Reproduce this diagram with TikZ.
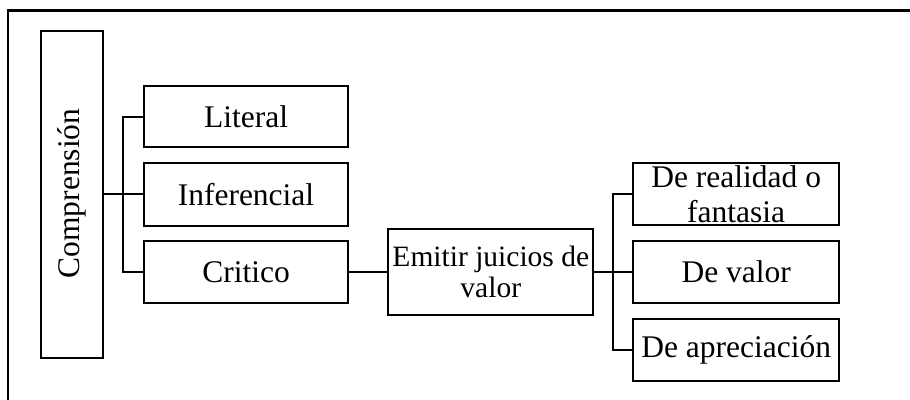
\documentclass[tikz,border=0pt]{standalone}
\usepackage{fontspec}
\setmainfont{Liberation Serif}
\begin{document}
\begin{tikzpicture}[x=1pt,y=-1pt,
  box/.style={draw=black,line width=2pt,inner sep=0pt,align=center,
    font=\fontsize{31.5}{36}\selectfont},
  link/.style={draw=black,line width=2pt}]
\useasboundingbox (0,0) rectangle (910,399);
\fill[white] (0,0) rectangle (910,399);
% frame (top and left edges only visible)
\coordinate (ftr) at (912,10.5);
\coordinate (ftl) at (8,10.5);
\coordinate (fbl) at (8,401);
\draw[line width=2.3pt] (ftr) -- (ftl) -- (fbl);
% nodes
\node[box,minimum width=62.5pt,minimum height=327pt] (comp) at (71.8,194.5) {};
\node[rotate=90,inner sep=0pt,font=\fontsize{31.5}{36}\selectfont] (comptext) at (71.8,193.5) {Comprensión};
\node[box,minimum width=204pt,minimum height=61.5pt] (lit) at (246,116.5) {Literal};
\node[box,minimum width=204pt,minimum height=62.5pt] (inf) at (246,194.3) {Inferencial};
\node[box,minimum width=204pt,minimum height=62.3pt] (cri) at (246,271.9) {Critico};
\node[box,minimum width=205pt,minimum height=85.7pt,font=\fontsize{29.5}{30.7}\selectfont] (emi) at (490.8,272.2) {Emitir juicios de\\valor};
\node[box,minimum width=205.7pt,minimum height=62.3pt,font=\fontsize{31.5}{34.7}\selectfont] (rea) at (736.2,193.9) {De realidad o\\fantasia};
\node[box,minimum width=205.7pt,minimum height=61.7pt] (val) at (736.2,271.9) {De valor};
\node[box,minimum width=205.7pt,minimum height=61.7pt] (apr) at (736.2,349.9) {De apreciación};
% connectors
\coordinate (t1) at (123.3,0);
\draw[link] (comp.east |- inf.west) -- (inf.west);
\draw[link] (lit.west) -| (t1 |- cri.west) -- (cri.west);
\draw[link] (cri.east) -- (emi.west |- cri.east);
\coordinate (t2) at (613.3,0);
\draw[link] (emi.east |- val.west) -- (val.west);
\draw[link] (rea.west) -| (t2 |- apr.west) -- (apr.west);
\end{tikzpicture}
\end{document}
